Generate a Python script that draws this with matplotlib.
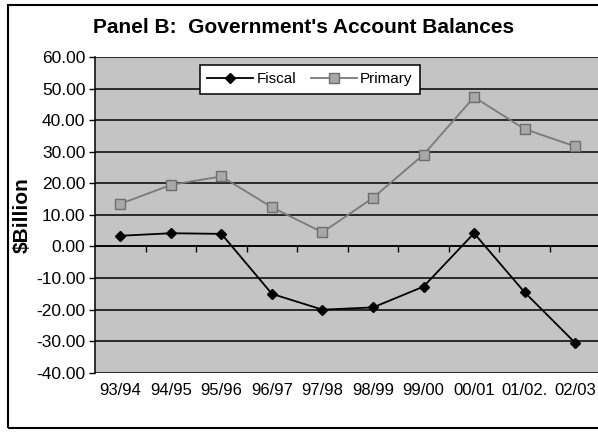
"""Panel B: Government's account balances (fiscal vs primary), $Billion."""

import matplotlib

matplotlib.use("Agg")
import matplotlib.pyplot as plt
from matplotlib.patches import Rectangle

years = ["93/94", "94/95", "95/96", "96/97", "97/98",
         "98/99", "99/00", "00/01", "01/02.", "02/03"]
fiscal = [3.4, 4.2, 4.0, -15.0, -20.0, -19.3, -12.7, 4.2, -14.5, -30.5]
primary = [13.5, 19.5, 22.2, 12.4, 4.5, 15.4, 29.1, 47.3, 37.2, 31.7]
y_ticks = [-40, -30, -20, -10, 0, 10, 20, 30, 40, 50, 60]

plt.rcParams["font.family"] = ["Liberation Sans", "DejaVu Sans"]

fig = plt.figure(figsize=(5.98, 4.32), dpi=100)
fig.patches.append(Rectangle((0.013, 0.009), 1.0, 0.979, transform=fig.transFigure,
                             fill=False, edgecolor="black", linewidth=1.5))

ax = fig.add_axes([0.159, 0.137, 0.845, 0.731])
ax.set_facecolor("#c4c4c4")

x = list(range(len(years)))
ax.plot(x, fiscal, color="black", linewidth=1.3, marker="D", markersize=5.5,
        markerfacecolor="black", label="Fiscal", zorder=4)
ax.plot(x, primary, color="#7a7a7a", linewidth=1.3, marker="s", markersize=6.5,
        markerfacecolor="#a8a8a8", markeredgecolor="#6e6e6e", label="Primary", zorder=4)

ax.set_xlim(-0.5, len(years) - 0.5)
ax.set_ylim(-40, 60)
ax.set_yticks(y_ticks)
ax.set_yticklabels([f"{v:.2f}" for v in y_ticks], fontsize=12.5)
for v in y_ticks:
    ax.axhline(v, color="black", linewidth=1.1, zorder=2)

for side in ["top", "right"]:
    ax.spines[side].set_visible(False)
ax.spines["left"].set_linewidth(1.1)
ax.spines["bottom"].set_position(("data", 0))
ax.spines["bottom"].set_linewidth(1.1)
ax.tick_params(axis="y", length=4, width=1, direction="out", pad=3)
ax.set_xticks([i + 0.5 for i in x[:-1]])
ax.set_xticklabels([])
ax.tick_params(axis="x", length=4, width=1, direction="out")

sec = ax.secondary_xaxis("bottom")
sec.set_xticks(x)
sec.set_xticklabels(years, fontsize=12)
sec.tick_params(length=0, pad=7)
sec.spines["bottom"].set_visible(False)

ax.set_ylabel("$Billion", fontsize=15, fontweight="bold", labelpad=3)
fig.text(0.508, 0.937, "Panel B:  Government's Account Balances",
         ha="center", va="center", fontsize=15, fontweight="bold")

leg = ax.legend(loc="upper left", bbox_to_anchor=(0.192, 1.0), ncol=2, fontsize=11,
                frameon=True, fancybox=False, edgecolor="black", framealpha=1,
                borderpad=0.5, handlelength=3, columnspacing=1.0, handletextpad=0.2)
leg.get_frame().set_linewidth(1.1)
leg.set_zorder(6)

fig.savefig("out.png", dpi=100)
